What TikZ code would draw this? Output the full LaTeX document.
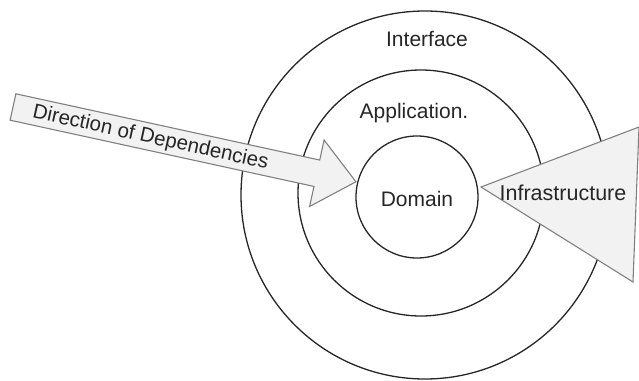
\documentclass[tikz,border=0pt]{standalone}
\usepackage{fontspec}
\setmainfont{Liberation Sans}
\begin{document}
\begin{tikzpicture}[x=1pt,y=-1pt,
  ring/.style={draw=black!85,line width=1.3pt,circle,inner sep=0pt},
  lbl/.style={font=\fontsize{21}{25}\selectfont,text=black!85,inner sep=0pt},
  shapefill/.style={fill=black!5,draw=black!50,line width=1.1pt,line join=miter}]
\useasboundingbox (0,0) rectangle (639,380);
\node[ring,minimum size=368pt] (iface) at (425,195) {};
\node[ring,minimum size=246pt] (app) at (421,193) {};
\node[ring,minimum size=122pt] (dom) at (417,197) {};
% direction arrow
\begin{scope}[shift={(13,107)},rotate=-12.3]
  \draw[shapefill] (0,-13.5) coordinate (a1) -- (311,-13.5) -- (311,-34) -- (351,0) coordinate (tip)
     -- (311,34) -- (311,13.5) -- (0,13.5) -- cycle;
  \node[lbl,font=\fontsize{20.5}{24}\selectfont,rotate=-12.3] (dir) at (141,1) {Direction of Dependencies};
\end{scope}
% infrastructure triangle
\draw[shapefill] (481,187) coordinate (itip) -- (639,127) -- (633,282) -- cycle;
\node[lbl,font=\fontsize{21.5}{25}\selectfont] (infra) at (563,193) {Infrastructure};
\node[lbl] (ilabel) at (427,39) {Interface};
\node[lbl] (alabel) at (414,113) {Application.};
\node[lbl] (dlabel) at (417,199) {Domain};
\end{tikzpicture}
\end{document}
